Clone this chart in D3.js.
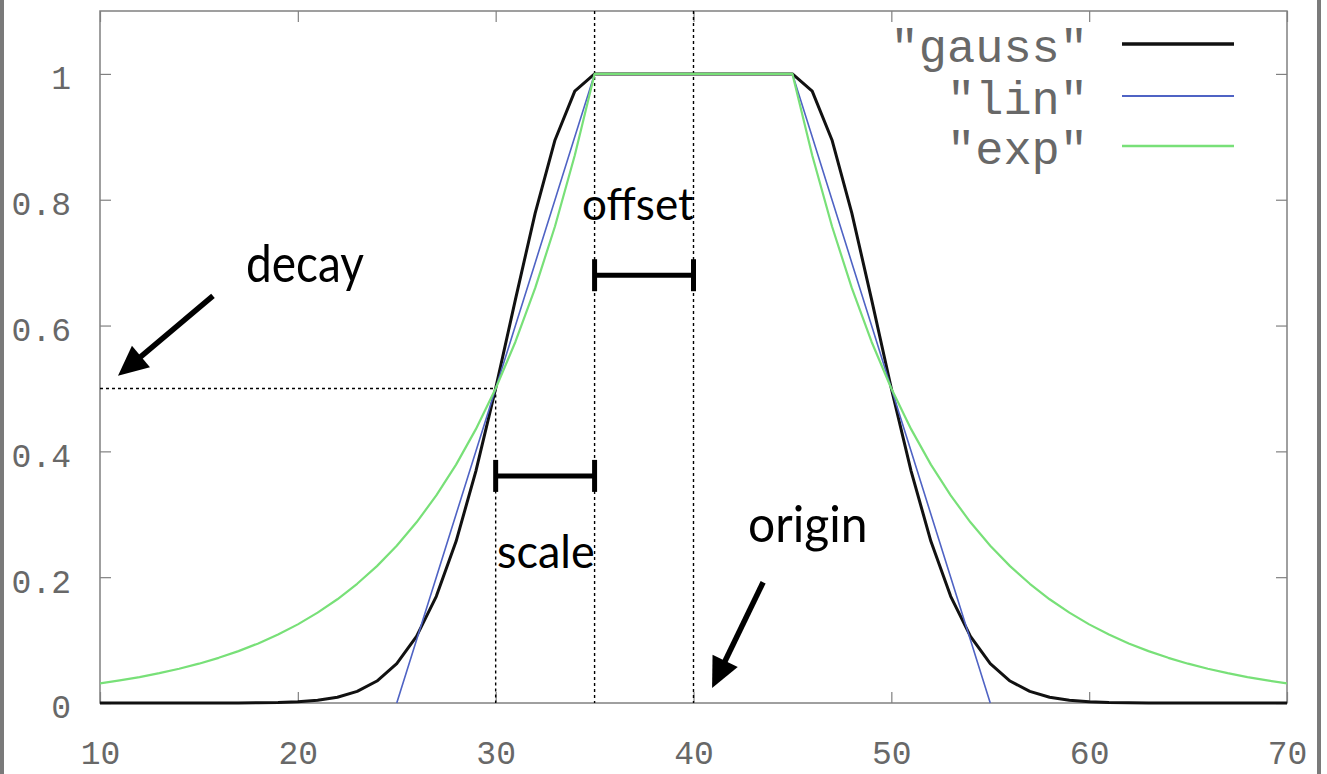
<!DOCTYPE html>
<html>
<head>
<meta charset="utf-8">
<script src="https://cdn.jsdelivr.net/npm/d3@7"></script>
<style>
  html, body { margin: 0; padding: 0; background: #fff; }
  svg { display: block; }
</style>
</head>
<body>
<svg id="chart" width="1327" height="774"></svg>
<script>
// ---- data ----
const xValues = [10,11,12,13,14,15,16,17,18,19,20,21,22,23,24,25,26,27,28,29,30,31,32,33,34,35,36,37,38,39,40,
                 41,42,43,44,45,46,47,48,49,50,51,52,53,54,55,56,57,58,59,60,61,62,63,64,65,66,67,68,69,70];
const gaussValues = [0,0,0,0,0,0,0,0,0.0003,0.0008,0.0020,0.0044,0.0092,0.0184,0.0349,0.0625,0.1058,0.1696,0.2570,0.3686,0.5,
                     0.6417,0.7792,0.8950,0.9727,1,1,1,1,1,1,1,1,1,1,1,0.9727,0.8950,0.7792,0.6417,0.5,
                     0.3686,0.2570,0.1696,0.1058,0.0625,0.0349,0.0184,0.0092,0.0044,0.0020,0.0008,0.0003,0,0,0,0,0,0,0,0];
const expValues = [0.0313,0.0359,0.0412,0.0474,0.0544,0.0625,0.0718,0.0825,0.0947,0.1088,0.125,0.1436,0.1649,0.1895,0.2176,0.25,
                   0.2872,0.3299,0.3789,0.4353,0.5,0.5743,0.6598,0.7579,0.8706,1,1,1,1,1,1,1,1,1,1,1,
                   0.8706,0.7579,0.6598,0.5743,0.5,0.4353,0.3789,0.3299,0.2872,0.25,0.2176,0.1895,0.1649,0.1436,0.125,
                   0.1088,0.0947,0.0825,0.0718,0.0625,0.0544,0.0474,0.0412,0.0359,0.0313];
const linX = [25,26,27,28,29,30,31,32,33,34,35,36,37,38,39,40,41,42,43,44,45,46,47,48,49,50,51,52,53,54,55];
const linValues = [0,0.1,0.2,0.3,0.4,0.5,0.6,0.7,0.8,0.9,1,1,1,1,1,1,1,1,1,1,1,0.9,0.8,0.7,0.6,0.5,0.4,0.3,0.2,0.1,0];

const seriesNames = ['"gauss"', '"lin"', '"exp"'];
const seriesColors = ["#111111", "#4f63c4", "#78e078"];
const seriesWidths = [3, 1.6, 2.2];

const xTicks = [10,20,30,40,50,60,70];
const xTickLabels = ["10","20","30","40","50","60","70"];
const yTicks = [0,0.2,0.4,0.6,0.8,1];
const yTickLabels = ["0","0.2","0.4","0.6","0.8","1"];

// annotation parameters (origin, offset, scale, decay)
const origin = 40, offset = 5, scaleP = 5, decay = 0.5;

// ---- layout ----
const svg = d3.select("#chart");
const x = d3.scaleLinear().domain([10, 70]).range([100, 1287]);
const y = d3.scaleLinear().domain([0, 1.1]).range([703, 11]);
const axisGray = "#808080";
const labelGray = "#686868";
const monoFont = "'Liberation Mono', 'DejaVu Sans Mono', monospace";
const annFont = "Lato, 'Open Sans', sans-serif";

// outer frame bars
svg.append("rect").attr("x", 0).attr("y", 0).attr("width", 4).attr("height", 774).attr("fill", "#7a7a7a");
svg.append("rect").attr("x", 1317).attr("y", 0).attr("width", 4).attr("height", 774).attr("fill", "#7a7a7a");

// axes
const axB = svg.append("g").attr("transform", `translate(0,${y(0)})`)
  .call(d3.axisBottom(x).tickValues(xTicks).tickFormat((d,i)=>xTickLabels[i]).tickSize(-11).tickPadding(38));
const axT = svg.append("g").attr("transform", `translate(0,${y(1.1)})`)
  .call(d3.axisTop(x).tickValues(xTicks).tickFormat("").tickSize(-11));
const axL = svg.append("g").attr("transform", `translate(${x(10)},0)`)
  .call(d3.axisLeft(y).tickValues(yTicks).tickFormat((d,i)=>yTickLabels[i]).tickSize(-11).tickPadding(29));
const axR = svg.append("g").attr("transform", `translate(${x(70)},0)`)
  .call(d3.axisRight(y).tickValues(yTicks).tickFormat("").tickSize(-11));
[axB, axT, axL, axR].forEach(g => {
  g.select(".domain").remove();
  g.selectAll(".tick line").attr("stroke", axisGray).attr("stroke-width", 1.2);
  g.selectAll(".tick text").attr("fill", labelGray).style("font-family", monoFont).style("font-size", "33px");
});
axL.selectAll(".tick text").attr("dy", "0.45em");

// plot border
svg.append("rect").attr("x", x(10)).attr("y", y(1.1)).attr("width", x(70) - x(10)).attr("height", y(0) - y(1.1))
  .attr("fill", "none").attr("stroke", axisGray).attr("stroke-width", 1.5);

// clip
svg.append("clipPath").attr("id", "clip").append("rect")
  .attr("x", x(10)).attr("y", y(1.1) - 2).attr("width", x(70) - x(10)).attr("height", y(0) - y(1.1) + 4);

// dotted guide lines
const dot = svg.append("g").attr("stroke", "#000").attr("stroke-width", 1.4).attr("stroke-dasharray", "3,3").attr("fill", "none");
dot.append("line").attr("x1", x(10)).attr("x2", x(origin - offset - scaleP)).attr("y1", y(decay)).attr("y2", y(decay));
dot.append("line").attr("x1", x(origin - offset - scaleP)).attr("x2", x(origin - offset - scaleP)).attr("y1", y(decay)).attr("y2", y(0));
dot.append("line").attr("x1", x(origin - offset)).attr("x2", x(origin - offset)).attr("y1", y(1.1)).attr("y2", y(0));
dot.append("line").attr("x1", x(origin)).attr("x2", x(origin)).attr("y1", y(1.1)).attr("y2", y(0));

// curves
const line = d3.line().x(d => x(d[0])).y(d => y(d[1]));
const curves = svg.append("g").attr("clip-path", "url(#clip)");
const seriesData = [
  xValues.map((v, i) => [v, gaussValues[i]]),
  linX.map((v, i) => [v, linValues[i]]),
  xValues.map((v, i) => [v, expValues[i]])
];
seriesData.forEach((data, i) => {
  curves.append("path").datum(data).attr("d", line).attr("fill", "none")
    .attr("stroke", seriesColors[i]).attr("stroke-width", seriesWidths[i]).attr("stroke-linejoin", "round");
});

// legend
const legend = svg.append("g");
const legendY = [44, 96, 146];
seriesNames.forEach((name, i) => {
  legend.append("text").attr("x", 1088).attr("y", legendY[i] + 18).attr("text-anchor", "end")
    .attr("fill", labelGray).style("font-family", monoFont).style("font-size", "47px").text(name);
  legend.append("line").attr("x1", 1122).attr("x2", 1234).attr("y1", legendY[i]).attr("y2", legendY[i])
    .attr("stroke", seriesColors[i]).attr("stroke-width", seriesWidths[i] + 0.4);
});

// brackets
function bracket(x0, x1, yv) {
  const g = svg.append("g").attr("stroke", "#000").attr("stroke-width", 5);
  g.append("line").attr("x1", x(x0)).attr("x2", x(x1)).attr("y1", y(yv)).attr("y2", y(yv));
  g.append("line").attr("x1", x(x0)).attr("x2", x(x0)).attr("y1", y(yv) - 16).attr("y2", y(yv) + 16);
  g.append("line").attr("x1", x(x1)).attr("x2", x(x1)).attr("y1", y(yv) - 16).attr("y2", y(yv) + 16);
}
bracket(origin - offset, origin, 0.68);
bracket(origin - offset - scaleP, origin - offset, 0.361);

// arrows
function arrow(xa, ya, xb, yb) {
  const p0 = [x(xa), y(ya)], p1 = [x(xb), y(yb)];
  const ang = Math.atan2(p1[1] - p0[1], p1[0] - p0[0]);
  const L = 30, W = 14;
  const base = [p1[0] - L * Math.cos(ang), p1[1] - L * Math.sin(ang)];
  svg.append("line").attr("x1", p0[0]).attr("y1", p0[1]).attr("x2", base[0] + 4 * Math.cos(ang)).attr("y2", base[1] + 4 * Math.sin(ang))
    .attr("stroke", "#000").attr("stroke-width", 5.5);
  const pts = [p1,
    [base[0] + W * Math.sin(ang), base[1] - W * Math.cos(ang)],
    [base[0] - W * Math.sin(ang), base[1] + W * Math.cos(ang)]];
  svg.append("polygon").attr("points", pts.map(p => p.join(",")).join(" ")).attr("fill", "#000");
}
arrow(15.71, 0.647, 10.91, 0.52);
arrow(43.52, 0.192, 40.94, 0.024);

// annotation texts
const annotations = [
  {text: "decay", xv: 17.38, yv: 0.669, size: 46, sy: 1.14},
  {text: "offset", xv: 34.37, yv: 0.768, size: 44, sy: 1.0},
  {text: "scale", xv: 30.07, yv: 0.215, size: 45, sy: 1.03},
  {text: "origin", xv: 42.76, yv: 0.256, size: 48, sy: 1.05}
];
annotations.forEach(a => {
  svg.append("g").attr("transform", `translate(${x(a.xv)},${y(a.yv)}) scale(1,${a.sy})`)
    .append("text").attr("x", 0).attr("y", 0).attr("fill", "#000")
    .style("font-family", annFont).style("font-size", a.size + "px").text(a.text);
});
</script>
</body>
</html>
